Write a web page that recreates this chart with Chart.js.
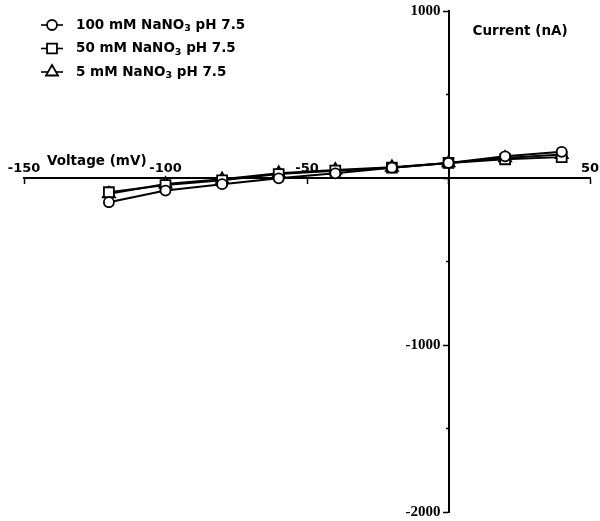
<!DOCTYPE html>
<html>
<head>
<meta charset="utf-8">
<script src="https://cdn.jsdelivr.net/npm/chart.js@4/dist/chart.umd.min.js"></script>
<style>
  html, body { margin: 0; padding: 0; background: #fff; }
  #wrap { width: 600px; height: 521px; position: relative; }
</style>
</head>
<body>
<div id="wrap"><canvas id="ivChart"></canvas></div>
<script>
/* ===== Data ===== */

const voltages = [-120, -100, -80, -60, -40, -20, 0, 20, 40];          // mV
const current100 = [-145, -75, -37, -2, 28, 62, 90, 130, 157];         // nA
const current50 = [-85, -42, -14, 24, 44, 62, 90, 112, 125];
const current5 = [-95, -36, -8, 28, 48, 64, 90, 120, 140];
const seriesLabels = ["100 mM NaNO₃ pH 7.5", "50 mM NaNO₃ pH 7.5", "5 mM NaNO₃ pH 7.5"];
const seriesMarkers = ["circle", "rect", "triangle"];

const xTicks = [-150, -100, -50, 0, 50];
const yTicks = [-2000, -1000, 0, 1000];
const yMinorTicks = [-1500, -500, 500];

const SANS = '"DejaVu Sans", sans-serif';
const SERIF = '"Liberation Serif", "Times New Roman", serif';

function toPoints(values) {
  return voltages.map((v, i) => ({ x: v, y: values[i] }));
}

function makeDataset(i, values) {
  const radius = seriesMarkers[i] === "circle" ? 5 : 7;
  return {
    label: seriesLabels[i],
    data: toPoints(values),
    borderColor: "#000",
    borderWidth: 2,
    backgroundColor: "#fff",
    pointStyle: seriesMarkers[i],
    pointRadius: radius,
    pointBorderWidth: 1.8,
    pointBackgroundColor: "#fff",
    pointBorderColor: "#000",
    tension: 0
  };
}

/* ===== Legend, axis titles, y tick labels ===== */

const overlay = {
  id: "overlay",
  afterDraw(chart) {
    const ctx = chart.ctx;
    const xs = chart.scales.x;
    const ys = chart.scales.y;
    const x0 = xs.getPixelForValue(0);
    const y0 = ys.getPixelForValue(0);

    ctx.save();
    ctx.fillStyle = "#000";
    ctx.textBaseline = "middle";

    // y labels sit left of the tick marks, origin label left out
    ctx.font = "bold 15px " + SERIF;
    ctx.textAlign = "right";
    yTicks.forEach(v => {
      if (v !== 0) ctx.fillText(String(v), x0 - 8, ys.getPixelForValue(v) + 0.5);
    });

    ctx.font = "bold 13.5px " + SANS;
    ctx.textAlign = "left";
    ctx.fillText("Voltage (mV)", xs.getPixelForValue(-150) + 23, y0 - 17);
    ctx.fillText("Current (nA)", x0 + 24, ys.top + 20);

    // legend rows: line segment with marker, then label with subscript
    chart.data.datasets.forEach((ds, i) => {
      const rowY = 25 + i * 23.5;
      ctx.strokeStyle = "#000";
      ctx.lineWidth = 1.6;
      ctx.beginPath();
      ctx.moveTo(41, rowY);
      ctx.lineTo(63, rowY);
      ctx.stroke();

      ctx.fillStyle = "#fff";
      ctx.lineWidth = 1.8;
      Chart.helpers.drawPoint(ctx, {
        pointStyle: ds.pointStyle,
        radius: ds.pointRadius,
        borderWidth: 1.8,
        rotation: 0
      }, 52, rowY);

      ctx.fillStyle = "#000";
      const parts = ds.label.split("₃");
      let tx = 76;
      ctx.font = "bold 13.5px " + SANS;
      ctx.fillText(parts[0], tx, rowY);
      tx += ctx.measureText(parts[0]).width;
      ctx.font = "bold 9.5px " + SANS;
      ctx.fillText("3", tx, rowY + 4);
      tx += ctx.measureText("3").width;
      ctx.font = "bold 13.5px " + SANS;
      ctx.fillText(parts[1], tx, rowY);
    });
    ctx.restore();
  }
};

/* ===== Chart ===== */

const axisGrid = {
  drawOnChartArea: false,
  drawTicks: true,
  tickLength: 5,
  tickWidth: 1.5,
  tickColor: "#000"
};

new Chart(document.getElementById("ivChart"), {
  type: "line",
  data: {
    datasets: [
      makeDataset(0, current100),
      makeDataset(1, current50),
      makeDataset(2, current5)
    ]
  },
  options: {
    responsive: true,
    maintainAspectRatio: false,
    animation: false,
    layout: { padding: { left: 24, right: 10, top: 11, bottom: 9 } },
    plugins: {
      legend: { display: false },
      tooltip: { enabled: false }
    },
    scales: {
      x: {
        type: "linear",
        position: { y: 0 },
        min: -150,
        max: 50,
        afterBuildTicks: (s) => { s.ticks = xTicks.map(v => ({ value: v })); },
        grid: axisGrid,
        border: { display: true, color: "#000", width: 2 },
        ticks: {
          autoSkip: false,
          maxRotation: 0,
          padding: -22,
          color: "#000",
          font: { family: SANS, size: 13, weight: "bold" },
          callback: (v) => (v === 0 ? "" : String(v))
        }
      },
      y: {
        type: "linear",
        position: { x: 0 },
        min: -2000,
        max: 1000,
        afterBuildTicks: (s) => { s.ticks = yTicks.map(v => ({ value: v })); },
        grid: axisGrid,
        border: { display: true, color: "#000", width: 2 },
        ticks: { display: false }
      },
      yMinor: {
        type: "linear",
        position: { x: 0 },
        min: -2000,
        max: 1000,
        afterBuildTicks: (s) => { s.ticks = yMinorTicks.map(v => ({ value: v })); },
        grid: { drawOnChartArea: false, drawTicks: true, tickLength: 3, tickWidth: 1.5, tickColor: "#000" },
        border: { display: false },
        ticks: { display: false }
      }
    }
  },
  plugins: [overlay]
});
</script>
</body>
</html>
